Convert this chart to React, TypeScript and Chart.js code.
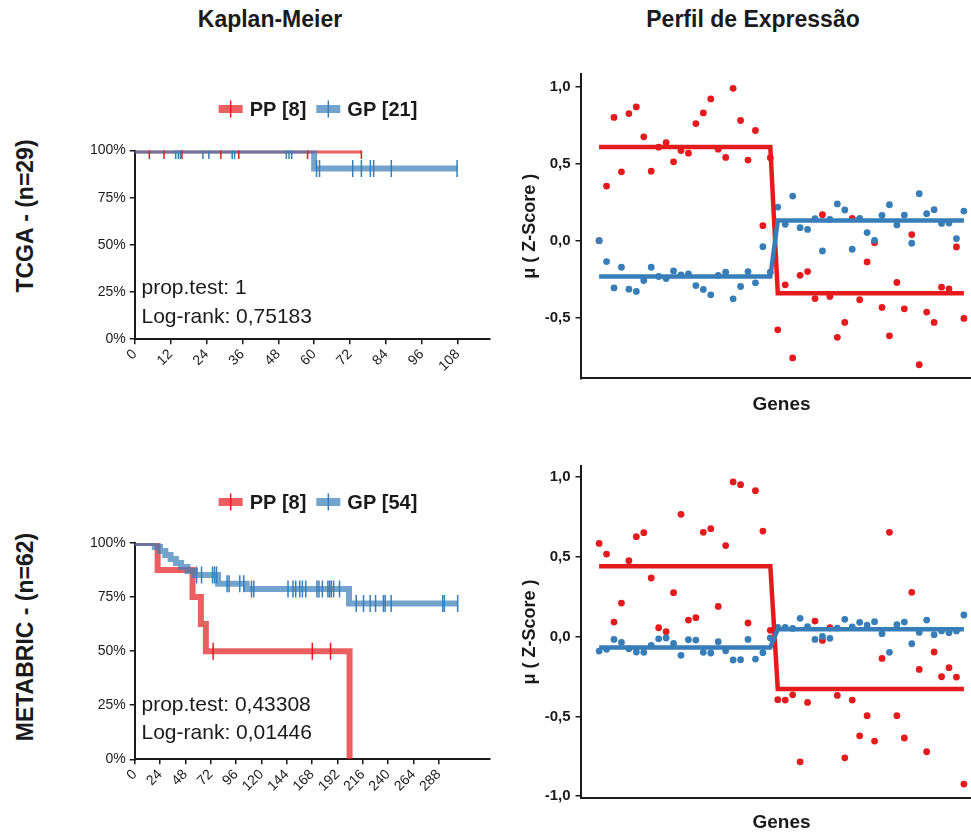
import React, { useEffect, useRef } from 'react';
import { Chart, registerables } from 'chart.js';

Chart.register(...registerables);

const FONT = "'Liberation Sans', Arial, Helvetica, sans-serif";
const RED = '#E41A1C';
const BLUE = '#377EB8';
const RED_A = 'rgba(228,26,28,0.7)';
const BLUE_A = 'rgba(55,126,184,0.7)';
const INK = '#1a1a1a';

// ---------------- Kaplan-Meier : shared ----------------
const survTicks = [0, 0.25, 0.5, 0.75, 1];

// ---------------- Kaplan-Meier : TCGA ----------------
const tcgaTimeTicks = [0, 12, 24, 36, 48, 60, 72, 84, 96, 108];
const tcgaPPTimes = [0, 75.8];
const tcgaPPSurv = [1, 1];
const tcgaPPCensorTimes = [4.9, 9.8, 15.8, 28.8, 34.8, 57.8, 75.8];
const tcgaPPCensorSurv = [1, 1, 1, 1, 1, 1, 1];
const tcgaGPTimes = [0, 60, 107.8];
const tcgaGPSurv = [1, 0.905, 0.905];
const tcgaGPCensorTimes = [13.7, 14.6, 15.3, 22.8, 24.8, 32.6, 33.4, 50.7, 51.6, 52.5, 60.8, 61.8, 72.9, 75.8, 78.8, 79.9, 85.8, 107.8];
const tcgaGPCensorSurv = [1, 1, 1, 1, 1, 1, 1, 1, 1, 1, 0.905, 0.905, 0.905, 0.905, 0.905, 0.905, 0.905, 0.905];
const tcgaLegend = ['PP [8]', 'GP [21]'];
const tcgaStats = ['prop.test: 1', 'Log-rank: 0,75183'];

// ---------------- Kaplan-Meier : METABRIC ----------------
const metaTimeTicks = [0, 24, 48, 72, 96, 120, 144, 168, 192, 216, 240, 264, 288];
const metaPPTimes = [0, 21.7, 54.8, 62.7, 67.4, 203.5];
const metaPPSurv = [1, 0.875, 0.75, 0.625, 0.5, 0];
const metaPPCensorTimes = [74.3, 168.2, 185.5];
const metaPPCensorSurv = [0.5, 0.5, 0.5];
const metaGPTimes = [0, 19, 24, 29, 34, 39, 44, 50, 57, 79, 106, 203, 305.9];
const metaGPSurv = [1, 0.981, 0.963, 0.944, 0.926, 0.907, 0.889, 0.87, 0.852, 0.812, 0.787, 0.72, 0.72];
const metaGPCensorTimes = [
  58.6, 63.3, 73.7, 75.6, 77.5,
  87.5, 89.4, 99.5, 103.3,
  110.6, 112.8, 145.2, 149.9, 152.5, 156.3, 158.8, 162, 172.6, 174.5, 177.7, 183, 184.6, 186.2, 188.4, 194,
  209.8, 216.7, 223, 228.1, 235.6, 237.2, 242.9, 291.7, 293.3, 305.9,
];
const metaGPCensorSurv = [
  0.852, 0.852, 0.852, 0.852, 0.852,
  0.812, 0.812, 0.812, 0.812,
  0.787, 0.787, 0.787, 0.787, 0.787, 0.787, 0.787, 0.787, 0.787, 0.787, 0.787, 0.787, 0.787, 0.787, 0.787, 0.787,
  0.72, 0.72, 0.72, 0.72, 0.72, 0.72, 0.72, 0.72, 0.72, 0.72,
];
const metaLegend = ['PP [8]', 'GP [54]'];
const metaStats = ['prop.test: 0,43308', 'Log-rank: 0,01446'];

// ---------------- Expression profile : TCGA ----------------
const tcgaExprTicks = [-0.5, 0, 0.5, 1];
const tcgaPPExpr = [
  0.0, 0.354, 0.8, 0.447, 0.825, 0.868, 0.674, 0.451, 0.607, 0.637, 0.512, 0.585, 0.568, 0.76, 0.829, 0.92, 0.594, 0.54, 0.989, 0.78, 0.523, 0.715, 0.097, 0.538,
  -0.579, -0.287, -0.762, -0.225, -0.201, -0.376, 0.168, -0.363, -0.628, -0.531, 0.145, -0.384, -0.138, -0.013, -0.434, -0.618, -0.272, -0.443, 0.039, -0.806, -0.464, -0.531, -0.302, -0.313, -0.041, -0.505,
];
const tcgaGPExpr = [
  0.0, -0.136, -0.307, -0.173, -0.315, -0.33, -0.259, -0.173, -0.233, -0.246, -0.197, -0.222, -0.216, -0.292, -0.317, -0.352, -0.225, -0.205, -0.378, -0.298, -0.201, -0.274, -0.039, -0.205,
  0.218, 0.106, 0.289, 0.084, 0.073, 0.143, -0.067, 0.138, 0.238, 0.199, -0.056, 0.145, 0.052, 0.002, 0.164, 0.233, 0.102, 0.166, -0.017, 0.305, 0.175, 0.201, 0.112, 0.114, 0.013, 0.192,
];
const tcgaPPMeanX = [0, 23, 24, 49];
const tcgaPPMeanY = [0.608, 0.608, -0.341, -0.341];
const tcgaGPMeanX = [0, 23, 24, 49];
const tcgaGPMeanY = [-0.233, -0.233, 0.13, 0.13];

// ---------------- Expression profile : METABRIC ----------------
const metaExprTicks = [-1, -0.5, 0, 0.5, 1];
const metaPPExpr = [
  0.585, 0.518, 0.092, 0.211, 0.476, 0.627, 0.652, 0.368, 0.056, 0.031, 0.276, 0.767, 0.104, 0.119, 0.654, 0.677, 0.19, 0.571, 0.97, 0.953, 0.086, 0.915, 0.662, 0.04,
  -0.395, -0.397, -0.364, -0.784, -0.412, 0.098, -0.023, 0.056, -0.368, -0.759, -0.397, -0.621, -0.495, -0.654, -0.136, 0.654, -0.495, -0.635, 0.278, -0.205, -0.721, -0.096, -0.251, -0.194, -0.253, -0.924,
];
const metaGPExpr = [
  -0.09, -0.079, -0.017, -0.036, -0.075, -0.096, -0.098, -0.054, -0.013, -0.008, -0.042, -0.117, -0.019, -0.021, -0.098, -0.102, -0.031, -0.088, -0.146, -0.144, -0.017, -0.14, -0.1, -0.008,
  0.059, 0.059, 0.052, 0.115, 0.063, -0.017, 0.002, -0.01, 0.054, 0.109, 0.061, 0.09, 0.073, 0.094, 0.019, -0.098, 0.075, 0.092, -0.044, 0.027, 0.104, 0.013, 0.036, 0.025, 0.036, 0.136,
];
const metaPPMeanX = [0, 23, 24, 49];
const metaPPMeanY = [0.442, 0.442, -0.327, -0.327];
const metaGPMeanX = [0, 23, 24, 49];
const metaGPMeanY = [-0.067, -0.067, 0.046, 0.046];

// ---------------- helpers ----------------
const zip = (xs: number[], ys: number[]) => xs.map((x, i) => ({ x, y: ys[i] }));
const pct = (v: number) => `${Math.round(v * 100)}%`;
const comma = (v: number) => (Math.abs(v) < 1e-9 ? 0 : v).toFixed(1).replace('.', ',');

interface KMSpec {
  ppT: number[]; ppS: number[]; ppCT: number[]; ppCS: number[];
  gpT: number[]; gpS: number[]; gpCT: number[]; gpCS: number[];
  xTicks: number[]; xMax: number;
  legend: string[]; stats: string[];
  w: number; h: number;
  area: { left: number; right: number; top: number; bottom: number };
  legendCX: number; legendY: number;
  statsX: number; statsY: number[];
}

function makeKM(s: KMSpec): any {
  const overlay = {
    id: 'kmOverlay',
    afterDraw(chart: any) {
      const ctx = chart.ctx as CanvasRenderingContext2D;
      ctx.save();
      // legend
      ctx.font = `bold 20px ${FONT}`;
      const items = [
        { label: s.legend[0], solid: RED, soft: RED_A },
        { label: s.legend[1], solid: BLUE, soft: BLUE_A },
      ];
      const mw = 24, gt = 7, gi = 10;
      const widths = items.map((it) => ctx.measureText(it.label).width);
      const total = widths.reduce((a, w) => a + mw + gt + w, 0) + gi * (items.length - 1);
      let x = s.legendCX - total / 2;
      const y = s.legendY;
      items.forEach((it, i) => {
        ctx.strokeStyle = it.soft;
        ctx.lineWidth = 8;
        ctx.lineCap = 'butt';
        ctx.beginPath();
        ctx.moveTo(x, y);
        ctx.lineTo(x + mw, y);
        ctx.stroke();
        ctx.strokeStyle = it.solid;
        ctx.lineWidth = 1.5;
        ctx.beginPath();
        ctx.moveTo(x + mw / 2, y - 8.5);
        ctx.lineTo(x + mw / 2, y + 8.5);
        ctx.stroke();
        ctx.fillStyle = INK;
        ctx.textAlign = 'left';
        ctx.textBaseline = 'middle';
        ctx.fillText(it.label, x + mw + gt, y + 1);
        x += mw + gt + widths[i] + gi;
      });
      // statistics
      ctx.font = `21px ${FONT}`;
      ctx.fillStyle = INK;
      ctx.textBaseline = 'alphabetic';
      s.stats.forEach((t, i) => ctx.fillText(t, s.statsX, s.statsY[i]));
      ctx.restore();
    },
  };
  const lineDs = (label: string, data: any, color: string, order: number) => ({
    type: 'line', label, data, stepped: true, borderColor: color, borderWidth: 6,
    pointRadius: 0, pointHoverRadius: 0, fill: false, clip: { left: 0, top: 0, bottom: 0, right: false }, order, tension: 0,
  });
  const censDs = (label: string, data: any, color: string, order: number) => ({
    type: 'scatter', label, data, showLine: false, pointStyle: 'line', pointRotation: 90,
    pointRadius: 8.5, pointHoverRadius: 8.5, pointBorderColor: color, pointBorderWidth: 1.5,
    pointBackgroundColor: color, clip: { left: 0, top: 0, bottom: 0, right: false }, order,
  });
  return {
    type: 'line',
    data: {
      datasets: [
        lineDs(s.legend[0], zip(s.ppT, s.ppS), RED_A, 3),
        lineDs(s.legend[1], zip(s.gpT, s.gpS), BLUE_A, 2),
        censDs('PP censor', zip(s.ppCT, s.ppCS), RED, 1),
        censDs('GP censor', zip(s.gpCT, s.gpCS), BLUE, 0),
      ],
    },
    options: {
      responsive: false,
      maintainAspectRatio: false,
      animation: false,
      events: [],
      layout: { padding: { left: 0, top: s.area.top, right: s.w - s.area.right, bottom: 0 } },
      plugins: { legend: { display: false }, tooltip: { enabled: false }, title: { display: false } },
      scales: {
        x: {
          type: 'linear', min: 0, max: s.xMax,
          afterBuildTicks: (sc: any) => { sc.ticks = s.xTicks.map((v) => ({ value: v })); },
          afterFit: (sc: any) => { sc.height = s.h - s.area.bottom; },
          ticks: { autoSkip: false, minRotation: 45, maxRotation: 45, color: INK, font: { family: FONT, size: 14 }, padding: 2 },
          grid: { display: true, drawOnChartArea: false, drawTicks: true, tickLength: 5, color: INK, lineWidth: 1.5 },
          border: { display: true, color: INK, width: 2 },
        },
        y: {
          type: 'linear', min: 0, max: 1,
          afterBuildTicks: (sc: any) => { sc.ticks = survTicks.map((v) => ({ value: v })); },
          afterFit: (sc: any) => { sc.width = s.area.left; },
          ticks: { callback: (v: any) => pct(Number(v)), color: INK, font: { family: FONT, size: 14 }, padding: 4 },
          grid: { display: true, drawOnChartArea: false, drawTicks: true, tickLength: 5, color: INK, lineWidth: 1.5 },
          border: { display: true, color: INK, width: 2 },
        },
      },
    },
    plugins: [overlay],
  };
}

interface ExprSpec {
  pp: number[]; gp: number[];
  ppMX: number[]; ppMY: number[]; gpMX: number[]; gpMY: number[];
  yTicks: number[]; yMin: number; yMax: number;
  w: number; h: number;
  area: { left: number; right: number; top: number; bottom: number };
  xTitlePad: number; yTitlePad: number;
}

function makeExpr(s: ExprSpec): any {
  const idx = (vals: number[]) => vals.map((v, i) => ({ x: i, y: v }));
  return {
    type: 'scatter',
    data: {
      datasets: [
        { type: 'line', label: 'PP mean', data: zip(s.ppMX, s.ppMY), borderColor: RED, borderWidth: 4.5, pointRadius: 0, pointHoverRadius: 0, fill: false, tension: 0, clip: false, order: 2 },
        { type: 'line', label: 'GP mean', data: zip(s.gpMX, s.gpMY), borderColor: BLUE, borderWidth: 4.5, pointRadius: 0, pointHoverRadius: 0, fill: false, tension: 0, clip: false, order: 1 },
        { type: 'scatter', label: 'PP', data: idx(s.pp), pointRadius: 3.4, pointHoverRadius: 3.4, pointBorderWidth: 0, pointBackgroundColor: RED, backgroundColor: RED, clip: false, order: 4 },
        { type: 'scatter', label: 'GP', data: idx(s.gp), pointRadius: 3.4, pointHoverRadius: 3.4, pointBorderWidth: 0, pointBackgroundColor: BLUE, backgroundColor: BLUE, clip: false, order: 3 },
      ],
    },
    options: {
      responsive: false,
      maintainAspectRatio: false,
      animation: false,
      events: [],
      layout: { padding: { left: 0, top: s.area.top, right: s.w - s.area.right, bottom: 0 } },
      plugins: { legend: { display: false }, tooltip: { enabled: false } },
      scales: {
        x: {
          type: 'linear', min: -2.5, max: 51.5,
          afterFit: (sc: any) => { sc.height = s.h - s.area.bottom; },
          ticks: { display: false },
          grid: { display: false },
          border: { display: true, color: INK, width: 2 },
          title: { display: true, text: 'Genes', color: INK, font: { family: FONT, size: 19, weight: 'bold' }, padding: { top: 0, bottom: s.xTitlePad } },
        },
        y: {
          type: 'linear', min: s.yMin, max: s.yMax,
          afterBuildTicks: (sc: any) => { sc.ticks = s.yTicks.map((v) => ({ value: v })); },
          afterFit: (sc: any) => { sc.width = s.area.left; },
          ticks: { callback: (v: any) => comma(Number(v)), color: INK, font: { family: FONT, size: 15, weight: 'bold' }, padding: 5 },
          grid: { display: true, drawOnChartArea: false, drawTicks: true, tickLength: 5, color: INK, lineWidth: 1.5 },
          border: { display: true, color: INK, width: 2 },
          title: { display: true, text: 'μ ( Z-Score )', color: INK, font: { family: FONT, size: 18, weight: 'bold' }, padding: { top: s.yTitlePad, bottom: 0 } },
        },
      },
    },
  };
}

function ChartBox({ config, left, top, w, h }: { config: any; left: number; top: number; w: number; h: number }) {
  const ref = useRef<HTMLCanvasElement>(null);
  useEffect(() => {
    const chart = new Chart(ref.current as HTMLCanvasElement, config);
    return () => chart.destroy();
  }, [config]);
  return (
    <div style={{ position: 'absolute', left, top, width: w, height: h }}>
      <canvas ref={ref} width={w} height={h} style={{ width: w, height: h, display: 'block' }} />
    </div>
  );
}

// layout (page coordinates)
const km1 = { left: 0, top: 60, w: 500, h: 340 };
const km2 = { left: 0, top: 450, w: 500, h: 360 };
const ex1 = { left: 500, top: 60, w: 490, h: 360 };
const ex2 = { left: 500, top: 450, w: 490, h: 384 };

const km1Config = makeKM({
  ppT: tcgaPPTimes, ppS: tcgaPPSurv, ppCT: tcgaPPCensorTimes, ppCS: tcgaPPCensorSurv,
  gpT: tcgaGPTimes, gpS: tcgaGPSurv, gpCT: tcgaGPCensorTimes, gpCS: tcgaGPCensorSurv,
  xTicks: tcgaTimeTicks, xMax: 118.8, legend: tcgaLegend, stats: tcgaStats,
  w: km1.w, h: km1.h,
  area: { left: 134.7, right: 492.2, top: 150.5 - km1.top, bottom: 339.2 - km1.top },
  legendCX: 318, legendY: 109 - km1.top, statsX: 141.5, statsY: [294 - km1.top, 323.3 - km1.top],
});

const km2Config = makeKM({
  ppT: metaPPTimes, ppS: metaPPSurv, ppCT: metaPPCensorTimes, ppCS: metaPPCensorSurv,
  gpT: metaGPTimes, gpS: metaGPSurv, gpCT: metaGPCensorTimes, gpCS: metaGPCensorSurv,
  xTicks: metaTimeTicks, xMax: 336.5, legend: metaLegend, stats: metaStats,
  w: km2.w, h: km2.h,
  area: { left: 134.7, right: 490.7, top: 543 - km2.top, bottom: 759.3 - km2.top },
  legendCX: 318, legendY: 502 - km2.top, statsX: 141.5, statsY: [710.7 - km2.top, 739.3 - km2.top],
});

const ex1Config = makeExpr({
  pp: tcgaPPExpr, gp: tcgaGPExpr, ppMX: tcgaPPMeanX, ppMY: tcgaPPMeanY, gpMX: tcgaGPMeanX, gpMY: tcgaGPMeanY,
  yTicks: tcgaExprTicks, yMin: -0.894, yMax: 1.082, w: ex1.w, h: ex1.h,
  area: { left: 80.5, right: 482.5, top: 73.3 - ex1.top, bottom: 378.3 - ex1.top },
  xTitlePad: 4, yTitlePad: 19,
});

const ex2Config = makeExpr({
  pp: metaPPExpr, gp: metaGPExpr, ppMX: metaPPMeanX, ppMY: metaPPMeanY, gpMX: metaGPMeanX, gpMY: metaGPMeanY,
  yTicks: metaExprTicks, yMin: -1.011, yMax: 1.07, w: ex2.w, h: ex2.h,
  area: { left: 80.5, right: 482.5, top: 466 - ex2.top, bottom: 798 - ex2.top },
  xTitlePad: 0, yTitlePad: 19,
});

const titleStyle: React.CSSProperties = {
  position: 'absolute', fontFamily: FONT, fontWeight: 'bold', fontSize: 23, lineHeight: '23px',
  color: INK, whiteSpace: 'nowrap', transform: 'translateX(-50%)',
};
const rowStyle: React.CSSProperties = {
  position: 'absolute', fontFamily: FONT, fontWeight: 'bold', fontSize: 23, lineHeight: '23px',
  color: INK, whiteSpace: 'nowrap', transform: 'translate(-50%, -50%) rotate(-90deg)',
};

export default function App() {
  return (
    <div style={{ position: 'absolute', left: 0, top: 0, width: 971, height: 834, overflow: 'hidden', background: '#fff' }}>
      <div style={{ ...titleStyle, left: 270, top: 8 }}>Kaplan-Meier</div>
      <div style={{ ...titleStyle, left: 753, top: 8 }}>Perfil de Expressão</div>
      <div style={{ ...rowStyle, left: 25, top: 216 }}>TCGA - (n=29)</div>
      <div style={{ ...rowStyle, left: 25, top: 637 }}>METABRIC - (n=62)</div>
      <ChartBox config={km1Config} {...km1} />
      <ChartBox config={km2Config} {...km2} />
      <ChartBox config={ex1Config} {...ex1} />
      <ChartBox config={ex2Config} {...ex2} />
    </div>
  );
}
